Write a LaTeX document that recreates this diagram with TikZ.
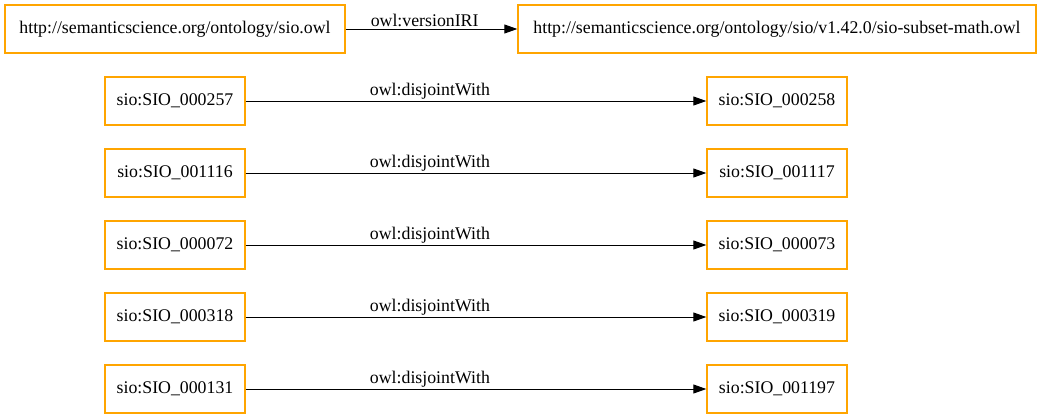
\documentclass[tikz,border=0pt]{standalone}
\usepackage{fontspec}
\setmainfont{Liberation Serif}
\usepackage{xcolor}
\usepackage{tikz}
\usetikzlibrary{arrows.meta}
\usetikzlibrary{positioning}
\definecolor{graphorange}{HTML}{FFA500}

\begin{document}
\begin{tikzpicture}[x=1bp,y=-1bp,->,>={Triangle[length=13bp,width=9bp]},line width=1bp,
                    node distance=72bp,font=\fontsize{17.8bp}{21bp}\selectfont]
 				 \tikzstyle{term}=[draw=graphorange, line width=1.4bp, rectangle, minimum height=48bp, inner xsep=8bp]
 				 \tikzstyle{cls}=[term, minimum width=140bp]
 				 \tikzstyle{lbl}=[above, pos=0.4, inner sep=1.5bp]
 				 \useasboundingbox (0,0) rectangle (1043,419);
 					 \node[term, minimum width=340bp] (sio) at (175,29) {http://semanticscience.org/ontology/sio.owl};
  					 \node[term, minimum width=518bp] (math) at (777,29) {http://semanticscience.org/ontology/sio/v1.42.0/sio-subset-math.owl};
 					 \node[cls] (c257) at (175,101) {sio:SIO\_000257};
 					 \node[cls] (c1116) [below of=c257] {sio:SIO\_001116};
 					 \node[cls] (c072) [below of=c1116] {sio:SIO\_000072};
 					 \node[cls] (c318) [below of=c072] {sio:SIO\_000318};
 					 \node[cls] (c131) [below of=c318] {sio:SIO\_000131};
  					 \node[cls] (c258) [right of=c257, node distance=602bp] {sio:SIO\_000258};
  					 \node[cls] (c1117) [right of=c1116, node distance=602bp] {sio:SIO\_001117};
  					 \node[cls] (c073) [right of=c072, node distance=602bp] {sio:SIO\_000073};
  					 \node[cls] (c319) [right of=c318, node distance=602bp] {sio:SIO\_000319};
  					 \node[cls] (c1197) [right of=c131, node distance=602bp] {sio:SIO\_001197};
 					 \path (sio) edge node[above, pos=0.46, inner sep=1.5bp] {owl:versionIRI} (math)
 					 		 	(c257) edge node[lbl] {owl:disjointWith} (c258)
 					 		 	(c1116) edge node[lbl] {owl:disjointWith} (c1117)
 					 		 	(c072) edge node[lbl] {owl:disjointWith} (c073)
 					 		 	(c318) edge node[lbl] {owl:disjointWith} (c319)
 					 			(c131) edge node[lbl] {owl:disjointWith} (c1197);
				\end{tikzpicture}
\end{document}
